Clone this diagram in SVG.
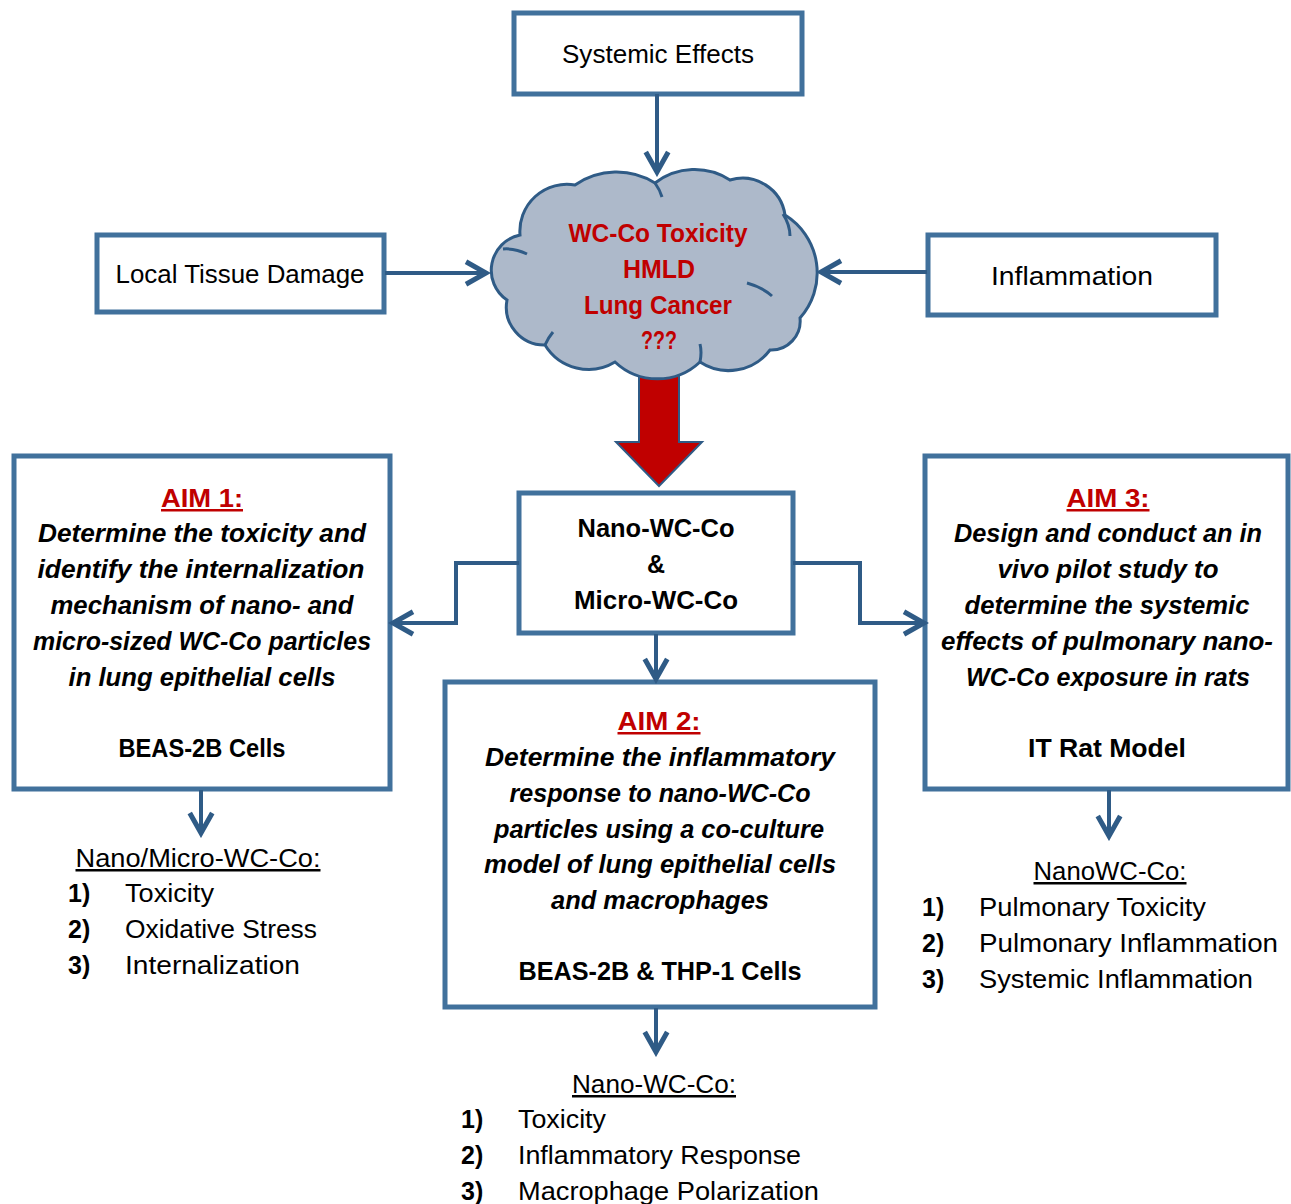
<svg xmlns="http://www.w3.org/2000/svg" width="1291" height="1204" viewBox="0 0 1291 1204">
<style>
.box{fill:#fff;stroke:#41719c;stroke-width:5}
.conn{fill:none;stroke:#2f5b86;stroke-width:4}
.t{font-family:"Liberation Sans",Arial,sans-serif;font-size:25px;fill:#000}
.m{text-anchor:middle}
.b{font-weight:bold}
.bi{font-weight:bold;font-style:italic}
.red{fill:#c00000}
.u{text-decoration:underline}
</style>
<defs>
<marker id="arr" markerUnits="userSpaceOnUse" markerWidth="30" markerHeight="30" viewBox="-20 -12 24 24" refX="0" refY="0" orient="auto">
<path d="M-16,-9 L0,0 L-16,9" fill="none" stroke="#2f5b86" stroke-width="4"/>
</marker>
</defs>
<rect width="1291" height="1204" fill="#fff"/>

<g id="red-arrow">
<polygon points="639,372 679,372 679,442 702,442 659,486 616,442 639,442" fill="#c00000" stroke="#2f5b86" stroke-width="2"/>
</g>

<g id="cloud">
<path d="M507,300 A36,36 0 0 1 520,235 A47,47 0 0 1 575,185 A73,73 0 0 1 655,183 A65,65 0 0 1 730,180 A43,43 0 0 1 785,215 A68,68 0 0 1 800,318 A29,29 0 0 1 770,350 A52,52 0 0 1 700,362 A62,62 0 0 1 615,362 A51,51 0 0 1 545,345 A38,38 0 0 1 507,300 Z" fill="#adb9ca" stroke="#2f5b86" stroke-width="3"/>
<path d="M503,249 Q515,248 527,254 M655,183 Q660,190 662,197 M783,214 Q790,225 790,236 M747,283 Q762,287 772,296 M700,362 Q702,352 700,344 M545,345 Q548,338 553,332" fill="none" stroke="#2f5b86" stroke-width="3"/>
<text class="t b red m" x="658" y="242" textLength="179" lengthAdjust="spacingAndGlyphs">WC-Co Toxicity</text>
<text class="t b red m" x="659" y="278" textLength="72" lengthAdjust="spacingAndGlyphs">HMLD</text>
<text class="t b red m" x="658" y="314" textLength="148" lengthAdjust="spacingAndGlyphs">Lung Cancer</text>
<text class="t b red m" x="659" y="349" textLength="36" lengthAdjust="spacingAndGlyphs">???</text>
</g>

<g id="systemic">
<rect class="box" x="514" y="13" width="288" height="81"/>
<text class="t m" x="658" y="63" textLength="192" lengthAdjust="spacingAndGlyphs">Systemic Effects</text>
</g>

<g id="local">
<rect class="box" x="97" y="235" width="287" height="77"/>
<text class="t m" x="240" y="283" textLength="249" lengthAdjust="spacingAndGlyphs">Local Tissue Damage</text>
</g>

<g id="inflammation">
<rect class="box" x="928" y="235" width="288" height="80"/>
<text class="t m" x="1072" y="285" textLength="162" lengthAdjust="spacingAndGlyphs">Inflammation</text>
</g>

<g id="nano">
<rect class="box" x="519" y="493" width="274" height="140"/>
<text class="t b m" x="656" y="537" textLength="157" lengthAdjust="spacingAndGlyphs">Nano-WC-Co</text>
<text class="t b m" x="656" y="573">&amp;</text>
<text class="t b m" x="656" y="609" textLength="164" lengthAdjust="spacingAndGlyphs">Micro-WC-Co</text>
</g>

<g id="aim1">
<rect class="box" x="14" y="456" width="376" height="333"/>
<text class="t b red m u" x="202" y="507" textLength="82" lengthAdjust="spacingAndGlyphs">AIM 1:</text>
<text class="t bi m" x="202" y="542" textLength="328" lengthAdjust="spacingAndGlyphs">Determine the toxicity and</text>
<text class="t bi m" x="201" y="578" textLength="327" lengthAdjust="spacingAndGlyphs">identify the internalization</text>
<text class="t bi m" x="202" y="614" textLength="303" lengthAdjust="spacingAndGlyphs">mechanism of nano- and</text>
<text class="t bi m" x="202" y="650" textLength="338" lengthAdjust="spacingAndGlyphs">micro-sized WC-Co particles</text>
<text class="t bi m" x="202" y="686" textLength="267" lengthAdjust="spacingAndGlyphs">in lung epithelial cells</text>
<text class="t b m" x="202" y="757" textLength="167" lengthAdjust="spacingAndGlyphs">BEAS-2B Cells</text>
</g>

<g id="aim2">
<rect class="box" x="445" y="682" width="430" height="325"/>
<text class="t b red m u" x="659" y="730" textLength="83" lengthAdjust="spacingAndGlyphs">AIM 2:</text>
<text class="t bi m" x="660" y="766" textLength="350" lengthAdjust="spacingAndGlyphs">Determine the inflammatory</text>
<text class="t bi m" x="660" y="802" textLength="301" lengthAdjust="spacingAndGlyphs">response to nano-WC-Co</text>
<text class="t bi m" x="659" y="838" textLength="330" lengthAdjust="spacingAndGlyphs">particles using a co-culture</text>
<text class="t bi m" x="660" y="873" textLength="352" lengthAdjust="spacingAndGlyphs">model of lung epithelial cells</text>
<text class="t bi m" x="660" y="909" textLength="218" lengthAdjust="spacingAndGlyphs">and macrophages</text>
<text class="t b m" x="660" y="980" textLength="283" lengthAdjust="spacingAndGlyphs">BEAS-2B  &amp; THP-1 Cells</text>
</g>

<g id="aim3">
<rect class="box" x="925" y="456" width="363" height="333"/>
<text class="t b red m u" x="1108" y="507" textLength="83" lengthAdjust="spacingAndGlyphs">AIM 3:</text>
<text class="t bi m" x="1108" y="542" textLength="308" lengthAdjust="spacingAndGlyphs">Design and conduct an in</text>
<text class="t bi m" x="1108" y="578" textLength="221" lengthAdjust="spacingAndGlyphs">vivo pilot study to</text>
<text class="t bi m" x="1107" y="614" textLength="285" lengthAdjust="spacingAndGlyphs">determine the systemic</text>
<text class="t bi m" x="1107" y="650" textLength="332" lengthAdjust="spacingAndGlyphs">effects of pulmonary nano-</text>
<text class="t bi m" x="1108" y="686" textLength="284" lengthAdjust="spacingAndGlyphs">WC-Co exposure  in rats</text>
<text class="t b m" x="1107" y="757" textLength="158" lengthAdjust="spacingAndGlyphs">IT Rat Model</text>
</g>

<g id="list1">
<text class="t m u" x="198" y="867" textLength="245" lengthAdjust="spacingAndGlyphs">Nano/Micro-WC-Co:</text>
<text class="t b" x="68" y="902">1)</text><text class="t" x="125" y="902" textLength="89" lengthAdjust="spacingAndGlyphs">Toxicity</text>
<text class="t b" x="68" y="938">2)</text><text class="t" x="125" y="938" textLength="192" lengthAdjust="spacingAndGlyphs">Oxidative Stress</text>
<text class="t b" x="68" y="974">3)</text><text class="t" x="125" y="974" textLength="175" lengthAdjust="spacingAndGlyphs">Internalization</text>
</g>

<g id="list2">
<text class="t m u" x="654" y="1093" textLength="164" lengthAdjust="spacingAndGlyphs">Nano-WC-Co:</text>
<text class="t b" x="461" y="1128">1)</text><text class="t" x="518" y="1128" textLength="88" lengthAdjust="spacingAndGlyphs">Toxicity</text>
<text class="t b" x="461" y="1164">2)</text><text class="t" x="518" y="1164" textLength="283" lengthAdjust="spacingAndGlyphs">Inflammatory Response</text>
<text class="t b" x="461" y="1200">3)</text><text class="t" x="518" y="1200" textLength="301" lengthAdjust="spacingAndGlyphs">Macrophage Polarization</text>
</g>

<g id="list3">
<text class="t m u" x="1110" y="880" textLength="153" lengthAdjust="spacingAndGlyphs">NanoWC-Co:</text>
<text class="t b" x="922" y="916">1)</text><text class="t" x="979" y="916" textLength="227" lengthAdjust="spacingAndGlyphs">Pulmonary Toxicity</text>
<text class="t b" x="922" y="952">2)</text><text class="t" x="979" y="952" textLength="299" lengthAdjust="spacingAndGlyphs">Pulmonary Inflammation</text>
<text class="t b" x="922" y="988">3)</text><text class="t" x="979" y="988" textLength="274" lengthAdjust="spacingAndGlyphs">Systemic Inflammation</text>
</g>

<g id="connectors">
<path class="conn" d="M657,94 L657,172" marker-end="url(#arr)"/>
<path class="conn" d="M385,273 L486,273" marker-end="url(#arr)"/>
<path class="conn" d="M927,272 L821,272" marker-end="url(#arr)"/>
<path class="conn" d="M519,563 L456,563 L456,623 L393,623" marker-end="url(#arr)"/>
<path class="conn" d="M793,563 L860,563 L860,623 L924,623" marker-end="url(#arr)"/>
<path class="conn" d="M656,634 L656,679" marker-end="url(#arr)"/>
<path class="conn" d="M201,790 L201,833" marker-end="url(#arr)"/>
<path class="conn" d="M1109,790 L1109,836" marker-end="url(#arr)"/>
<path class="conn" d="M656,1008 L656,1052" marker-end="url(#arr)"/>
</g>
</svg>
